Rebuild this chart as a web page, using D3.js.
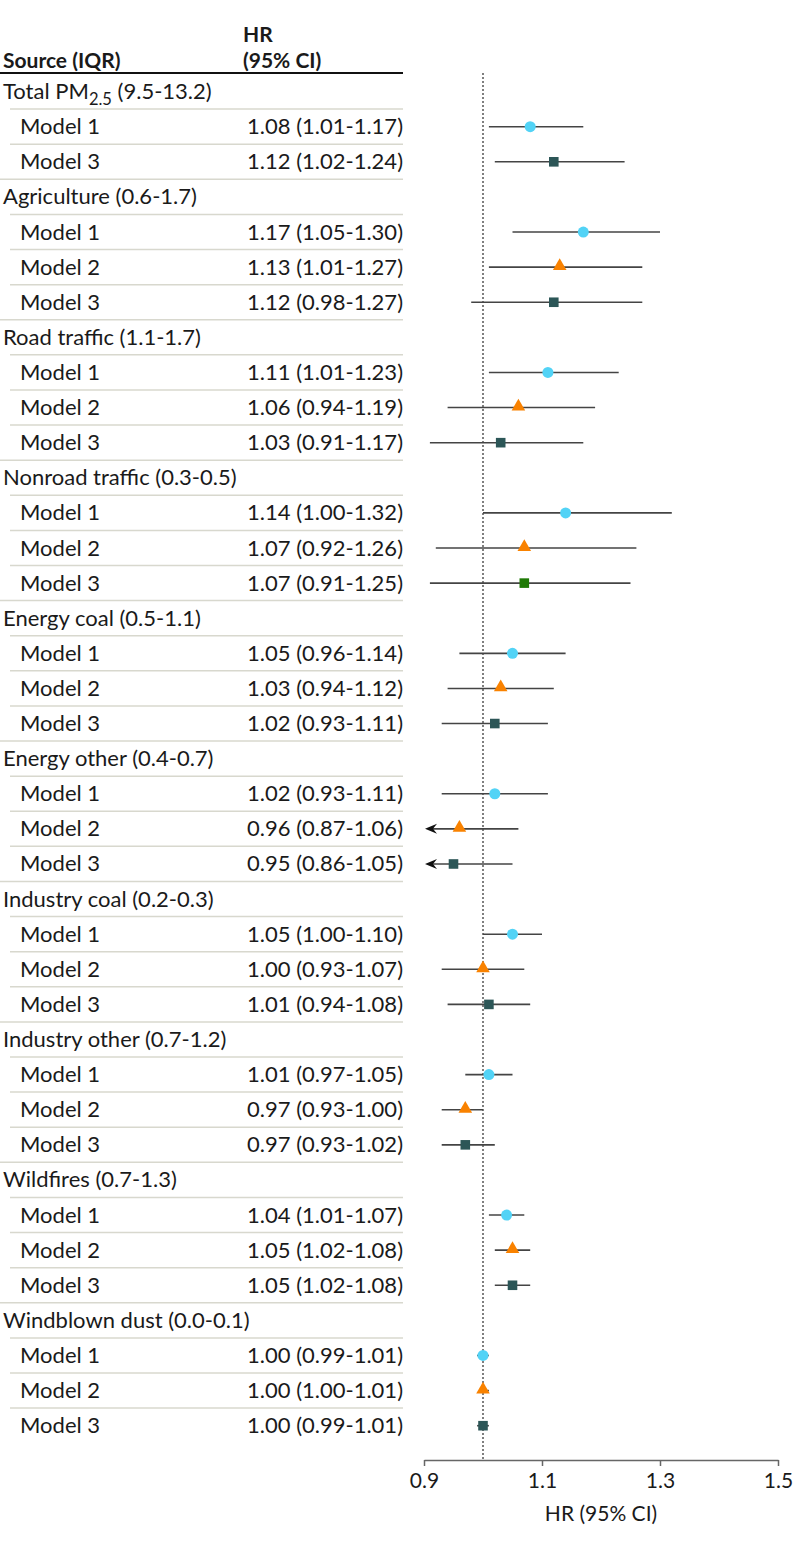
<!DOCTYPE html>
<html>
<head>
<meta charset="utf-8">
<script src="https://cdn.jsdelivr.net/npm/d3@7"></script>
<style>
  html, body { margin: 0; padding: 0; background: #fff; }
  svg { display: block; font-family: Lato, "Open Sans", sans-serif; }
</style>
</head>
<body>
<svg id="chart" width="794" height="1542"></svg>
<script>
// ---------- data ----------
const sources = ["Total PM2.5", "Agriculture", "Road traffic", "Nonroad traffic", "Energy coal",
  "Energy other", "Industry coal", "Industry other", "Wildfires", "Windblown dust"];
const sourceIQR = ["9.5-13.2", "0.6-1.7", "1.1-1.7", "0.3-0.5", "0.5-1.1",
  "0.4-0.7", "0.2-0.3", "0.7-1.2", "0.7-1.3", "0.0-0.1"];
const sourceModels = [
  ["Model 1", "Model 3"],
  ["Model 1", "Model 2", "Model 3"],
  ["Model 1", "Model 2", "Model 3"],
  ["Model 1", "Model 2", "Model 3"],
  ["Model 1", "Model 2", "Model 3"],
  ["Model 1", "Model 2", "Model 3"],
  ["Model 1", "Model 2", "Model 3"],
  ["Model 1", "Model 2", "Model 3"],
  ["Model 1", "Model 2", "Model 3"],
  ["Model 1", "Model 2", "Model 3"]
];
const hrValues = [
  [1.08, 1.12],
  [1.17, 1.13, 1.12],
  [1.11, 1.06, 1.03],
  [1.14, 1.07, 1.07],
  [1.05, 1.03, 1.02],
  [1.02, 0.96, 0.95],
  [1.05, 1.00, 1.01],
  [1.01, 0.97, 0.97],
  [1.04, 1.05, 1.05],
  [1.00, 1.00, 1.00]
];
const ciLower = [
  [1.01, 1.02],
  [1.05, 1.01, 0.98],
  [1.01, 0.94, 0.91],
  [1.00, 0.92, 0.91],
  [0.96, 0.94, 0.93],
  [0.93, 0.87, 0.86],
  [1.00, 0.93, 0.94],
  [0.97, 0.93, 0.93],
  [1.01, 1.02, 1.02],
  [0.99, 1.00, 0.99]
];
const ciUpper = [
  [1.17, 1.24],
  [1.30, 1.27, 1.27],
  [1.23, 1.19, 1.17],
  [1.32, 1.26, 1.25],
  [1.14, 1.12, 1.11],
  [1.11, 1.06, 1.05],
  [1.10, 1.07, 1.08],
  [1.05, 1.00, 1.02],
  [1.07, 1.08, 1.08],
  [1.01, 1.01, 1.01]
];
const xTicks = [0.9, 1.1, 1.3, 1.5];
const xDomain = [0.9, 1.5];
const refValue = 1.0;
const xAxisTitle = "HR (95% CI)";

// ---------- build rows ----------
const rows = [];
sources.forEach((s, gi) => {
  rows.push({ type: "group", gi, source: s, iqr: sourceIQR[gi] });
  sourceModels[gi].forEach((m, mi) => {
    rows.push({
      type: "model", gi, model: m, hr: hrValues[gi][mi], lo: ciLower[gi][mi], hi: ciUpper[gi][mi],
      last: mi === sourceModels[gi].length - 1
    });
  });
});

// ---------- styles ----------
const markerStyle = {
  "Model 1": { shape: d3.symbolCircle, size: 95, color: "#52d3f6" },
  "Model 2": { shape: d3.symbolTriangle, size: 80, color: "#f98200" },
  "Model 3": { shape: d3.symbolSquare, size: 92, color: "#2c5657" }
};
const specialColor = { source: "Nonroad traffic", model: "Model 3", color: "#1f7a06" };

const svg = d3.select("#chart");
const x = d3.scaleLinear().domain(xDomain).range([424, 778]);
const y = d3.scaleLinear().domain([0, rows.length - 1]).range([91.6, 1425.7]);
const textColor = "#1a1a1a";
const fs = 22;

// header
svg.append("text").attr("x", 3).attr("y", 68).attr("font-size", 21).attr("font-weight", 700)
  .attr("fill", textColor).text("Source (IQR)");
svg.append("text").attr("x", 243).attr("y", 42).attr("font-size", 21).attr("font-weight", 700)
  .attr("fill", textColor).text("HR");
svg.append("text").attr("x", 243).attr("y", 68).attr("font-size", 21).attr("font-weight", 700)
  .attr("fill", textColor).text("(95% CI)");
svg.append("line").attr("x1", 0).attr("x2", 403).attr("y1", 73).attr("y2", 73)
  .attr("stroke", "#111").attr("stroke-width", 2);

// separators
rows.forEach((r, i) => {
  if (i === rows.length - 1) return;
  const yy = y(i) + 17.5;
  svg.append("line").attr("x1", (r.type === "model" && r.last) ? 0 : 10).attr("x2", 403)
    .attr("y1", yy).attr("y2", yy).attr("stroke", "#d8d8ce").attr("stroke-width", 1.5);
});

// row text
rows.forEach((r, i) => {
  const yy = y(i) + 7.5;
  if (r.type === "group") {
    const t = svg.append("text").attr("x", 3).attr("y", yy).attr("font-size", fs).attr("fill", textColor);
    if (r.source === "Total PM2.5") {
      t.append("tspan").text("Total PM");
      t.append("tspan").attr("font-size", fs * 0.75).attr("dy", 6).text("2.5");
      t.append("tspan").attr("dy", -6).text(" (" + r.iqr + ")");
    } else {
      t.text(r.source + " (" + r.iqr + ")");
    }
  } else {
    svg.append("text").attr("x", 20).attr("y", yy).attr("font-size", fs).attr("fill", textColor).text(r.model);
    svg.append("text").attr("x", 403).attr("y", yy).attr("text-anchor", "end").attr("font-size", fs)
      .attr("fill", textColor)
      .text(r.hr.toFixed(2) + " (" + r.lo.toFixed(2) + "-" + r.hi.toFixed(2) + ")");
  }
});

// reference line
svg.append("line").attr("x1", x(refValue)).attr("x2", x(refValue)).attr("y1", 73).attr("y2", 1460)
  .attr("stroke", "#555").attr("stroke-width", 1.5).attr("stroke-dasharray", "2,2");

// CIs and markers
const modelRows = rows.filter(r => r.type === "model");
modelRows.forEach(r => {
  const i = rows.indexOf(r);
  const yy = y(i);
  const clipped = r.lo < xDomain[0];
  const x1 = clipped ? x(xDomain[0]) + 8 : x(r.lo);
  svg.append("line").attr("x1", x1).attr("x2", x(r.hi)).attr("y1", yy).attr("y2", yy)
    .attr("stroke", "#444").attr("stroke-width", 1.6);
  if (clipped) {
    const tip = x(xDomain[0]) + 1;
    svg.append("path")
      .attr("d", `M${tip},${yy} L${tip + 12},${yy - 5} L${tip + 8},${yy} L${tip + 12},${yy + 5} Z`)
      .attr("fill", "#111");
  }
  const st = markerStyle[r.model];
  let color = st.color;
  if (sources[r.gi] === specialColor.source && r.model === specialColor.model) color = specialColor.color;
  svg.append("path").attr("d", d3.symbol().type(st.shape).size(st.size)())
    .attr("transform", `translate(${x(r.hr)},${r.model === "Model 2" ? yy - 1 : yy})`)
    .attr("fill", color);
});

// axis
const axisG = svg.append("g").attr("transform", "translate(0,1460)")
  .call(d3.axisBottom(x).tickValues(xTicks).tickFormat(d3.format(".1f")).tickSize(6).tickSizeOuter(0));
axisG.select(".domain").attr("stroke", "#666").attr("stroke-width", 1.5);
axisG.selectAll(".tick line").attr("stroke", "#666").attr("stroke-width", 1.5);
axisG.selectAll(".tick text").attr("font-size", 21).attr("font-family", "Lato, sans-serif")
  .attr("fill", textColor).attr("dy", "0.9em");
svg.append("text").attr("x", (x.range()[0] + x.range()[1]) / 2).attr("y", 1521)
  .attr("text-anchor", "middle").attr("font-size", 21).attr("fill", textColor).text(xAxisTitle);
</script>
</body>
</html>
